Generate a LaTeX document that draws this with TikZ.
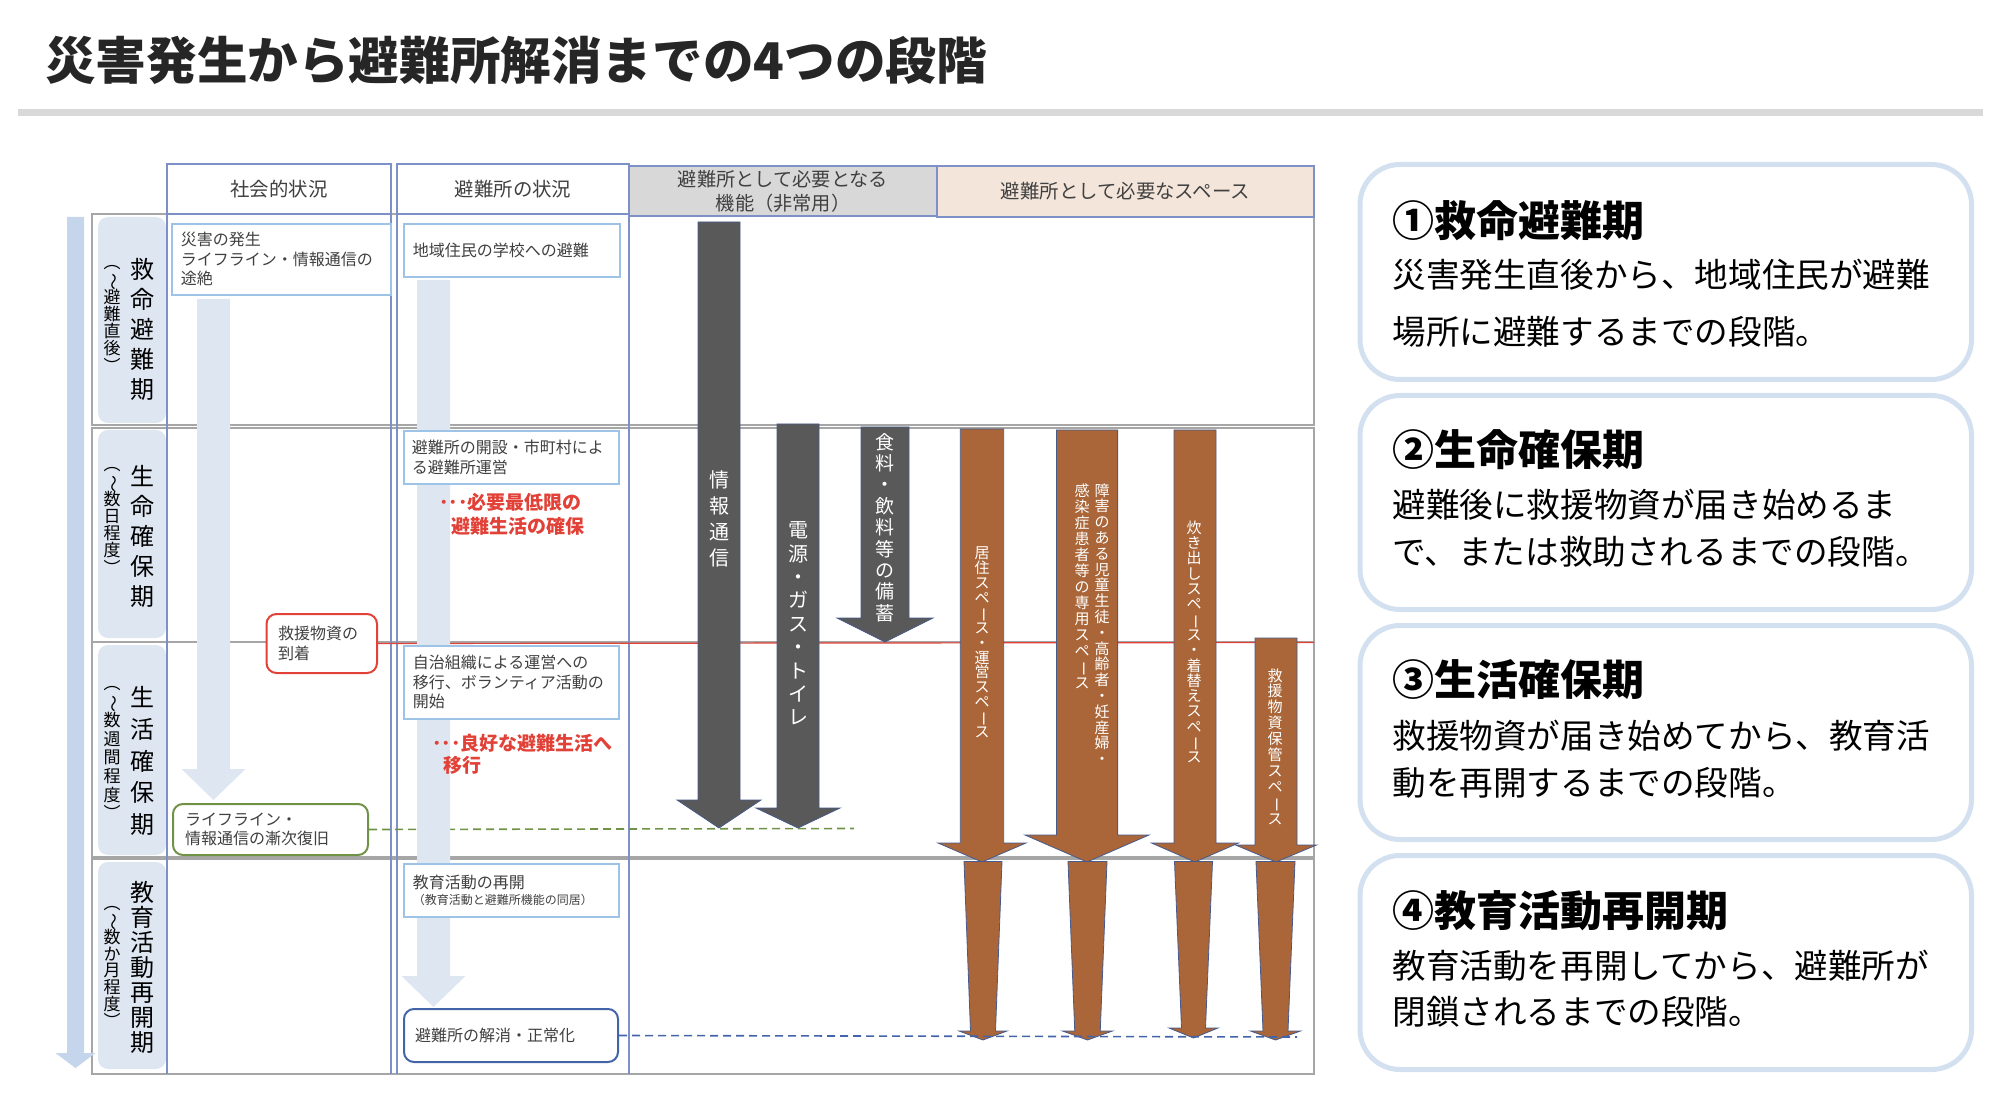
\documentclass[tikz,border=0pt]{standalone}
\usepackage{fontspec}
\usepackage{graphicx}
\setmainfont{Noto Sans CJK JP}

\definecolor{titletxt}{RGB}{38,38,38}
\definecolor{rulegray}{RGB}{217,217,217}
\definecolor{rowgray}{RGB}{166,166,166}
\definecolor{colline}{RGB}{125,145,200}
\definecolor{hdrgray}{RGB}{216,216,216}
\definecolor{hdrbeige}{RGB}{243,229,217}
\definecolor{labelblue}{RGB}{222,230,242}
\definecolor{arrowblue}{RGB}{197,213,235}
\definecolor{flowblue}{RGB}{222,230,242}
\definecolor{boxblue}{RGB}{157,195,230}
\definecolor{txtgray}{RGB}{64,64,64}
\definecolor{relred}{RGB}{225,65,55}
\definecolor{lifegreen}{RGB}{112,146,70}
\definecolor{closeblue}{RGB}{68,100,170}
\definecolor{darkfill}{RGB}{89,89,89}
\definecolor{brownfill}{RGB}{170,102,56}
\definecolor{arrowedge}{RGB}{70,90,140}
\definecolor{panelblue}{RGB}{210,224,240}

% 縦書き（1文字ずつ積む）
\def\tatei#1{\ifx\relax#1\else\hbox to 1em{\hss#1\hss}\expandafter\tatei\fi}
\newcommand\tate[2][1.25em]{\vbox{\baselineskip=#1\lineskiplimit=-\maxdimen\tatei#2\relax}}
\newcommand\vwave{\rotatebox[origin=c]{-90}{～}}
\newcommand\vbar{\rotatebox[origin=c]{-90}{ー}}

\begin{document}
\begin{tikzpicture}[x=0.5pt,y=-0.5pt,
    hdrtext/.style={font=\fontsize{9.7pt}{12pt}\selectfont, text=txtgray, inner sep=0pt},
    boxtext/.style={font=\fontsize{8pt}{9.75pt}\selectfont, text=txtgray},
    sitbox/.style={boxtext, draw=boxblue, line width=0.8pt, fill=white, anchor=north west, align=left, inner ysep=0pt},
    redtext/.style={font=\bfseries\fontsize{9.5pt}{12pt}\selectfont, text=relred, align=left, inner sep=0pt, anchor=west},
    phase/.style={font=\fontsize{12pt}{12pt}\selectfont, text=black, inner sep=0pt},
    phasesub/.style={font=\fontsize{8.5pt}{8.5pt}\selectfont, text=black, inner sep=0pt},
    arrowtext/.style={text=white, inner sep=0pt},
    spacetext/.style={font=\fontsize{7.5pt}{7.5pt}\selectfont, text=white, inner sep=0pt},
    darkarrow/.style={fill=darkfill, draw=arrowedge, line width=0.4pt},
    brownarrow/.style={fill=brownfill, draw=arrowedge, line width=0.4pt},
    panel/.style={draw=panelblue, line width=2.5pt, fill=white, rounded corners=20pt},
    ptitle/.style={font=\bfseries\fontsize{21pt}{24pt}\selectfont, text=black, inner sep=0pt, anchor=west},
    pbody/.style={text=black, align=left, inner sep=0pt, anchor=west}]
  \useasboundingbox (0,0) rectangle (1999,1118);

  % タイトル
  \node[font=\bfseries\fontsize{25.3pt}{30pt}\selectfont, text=titletxt, inner sep=0pt, anchor=west] (title) at (45,60) {災害発生から避難所解消までの4つの段階};
  \fill[rulegray] (18,109) rectangle (1983,116);

  % 表の行
  \foreach \ya/\yb in {214/425, 428/642, 642/857, 859/1074}
    \draw[rowgray, line width=0.75pt] (92,\ya) rectangle (1314,\yb);
  \foreach \ya/\yb in {217/423, 430/638, 645/855, 862/1069}
    \fill[labelblue, rounded corners=5pt] (98,\ya) rectangle (166,\yb);

  % 見出し
  \draw[colline, line width=0.6pt, fill=white] (167,164) rectangle (391,214);
  \draw[colline, line width=0.6pt, fill=white] (397,164) rectangle (629,214);
  \draw[colline, line width=0.6pt, fill=hdrgray] (629,166) rectangle (937,216);
  \draw[colline, line width=0.6pt, fill=hdrbeige] (937,166) rectangle (1314,217);
  \foreach \x in {167,391,397,629}
    \draw[colline, line width=0.6pt] (\x,164) -- (\x,1074);

  \node[hdrtext] (hsoc) at (279,189) {社会的状況};
  \node[hdrtext] (hshel) at (513,189) {避難所の状況};
  \node[hdrtext, align=center, font=\fontsize{9.6pt}{12pt}\selectfont] (hfunc) at (783,191) {避難所として必要となる\\機能（非常用）};
  \node[hdrtext] (hspace) at (1125.5,191.5) {避難所として必要なスペース};

  % 左の時間軸
  \fill[arrowblue] (67,217) -- (84,217) -- (84,1053) -- (95.5,1053) -- (75.5,1068) -- (55.5,1053) -- (67,1053) -- cycle;

  % 段階名
  \node[phase] (ph1) at (142,329) {\tate[15pt]{救命避難期}};
  \node[phase] (ph2) at (142,536) {\tate[15pt]{生命確保期}};
  \node[phase] (ph3) at (142,761) {\tate[15.9pt]{生活確保期}};
  \node[phase] (ph4) at (142,967) {\tate[12.5pt]{教育活動再開期}};
  \node[phasesub] (ph1s) at (112,319) {\tate[8.6pt]{︵\vwave 避難直後︶}};
  \node[phasesub] (ph2s) at (112,521) {\tate[8.6pt]{︵\vwave 数日程度︶}};
  \node[phasesub] (ph3s) at (112,753) {\tate[9.3pt]{︵\vwave 数週間程度︶}};
  \node[phasesub] (ph4s) at (112,967) {\tate[8.4pt]{︵\vwave 数か月程度︶}};

  % 赤線・点線の端
  \coordinate (redend) at (1314,642.5);
  \coordinate (greenend) at (854,828.5);
  \coordinate (blueend) at (1297,1037);

  \node[sitbox, draw=relred, rounded corners=5pt, line width=1pt, text width=43.75pt, inner xsep=5.75pt, minimum height=29.5pt] (relief) at (265.5,613) {救援物資の\\到着};
  \draw[relred, line width=0.6pt] (relief.east) -- (redend);
  \node[sitbox, draw=lifegreen, rounded corners=5pt, line width=1pt, text width=85.5pt, inner xsep=6pt, minimum height=25.5pt] (lifeline) at (172,803) {ライフライン・\\情報通信の漸次復旧};
  \draw[lifegreen, line width=0.8pt, dash pattern=on 4pt off 2.5pt] (lifeline.east) -- (greenend);

  % 流れの矢印（薄い青）
  \foreach \cx/\top/\ht/\tip in {213.5/299/769/800, 433.5/280/976/1007}
    \fill[flowblue] ({\cx-16.5},\top) -- ({\cx+16.5},\top) -- ({\cx+16.5},\ht) -- ({\cx+32},\ht) -- (\cx,\tip) -- ({\cx-32},\ht) -- ({\cx-16.5},\ht) -- cycle;

  % 機能の矢印
  \foreach \cx/\top/\s/\h/\ht/\tip in {719/222/21/42/800/828, 798/424/21/42/808/828, 885/427/24/48/618/642}
    \draw[darkarrow] ({\cx-\s},\top) -- ({\cx+\s},\top) -- ({\cx+\s},\ht) -- ({\cx+\h},\ht) -- (\cx,\tip) -- ({\cx-\h},\ht) -- ({\cx-\s},\ht) -- cycle;

  % スペースの矢印
  \foreach \cx/\top/\s/\h/\ht in {982/429/21.7/44/843, 1087/430/30.6/62/835, 1195/430/21/43.5/843, 1276/638/21/40.5/845}
    \draw[brownarrow] ({\cx-\s},\top) -- ({\cx+\s},\top) -- ({\cx+\s},\ht) -- ({\cx+\h},\ht) -- (\cx,862) -- ({\cx-\h},\ht) -- ({\cx-\s},\ht) -- cycle;
  \foreach \cx/\tw/\bw/\hw/\ht/\tip in {983/19/12.5/24/1031/1040, 1087.5/19.5/12.75/25/1031/1040, 1193.5/19/12/24.5/1028/1038, 1275.5/19.5/12.5/25/1031/1040}
    \draw[brownarrow] ({\cx-\tw},861.5) -- ({\cx+\tw},861.5) -- ({\cx+\bw},\ht) -- ({\cx+\hw},\ht) -- (\cx,\tip) -- ({\cx-\hw},\ht) -- ({\cx-\bw},\ht) -- cycle;

  \node[arrowtext, font=\fontsize{10pt}{10pt}\selectfont] (tinfo) at (719,519) {\tate[13pt]{情報通信}};
  \node[arrowtext, font=\fontsize{10pt}{10pt}\selectfont] (tpower) at (798,623.5) {\tate[11.7pt]{電源・ガス・トイレ}};
  \node[arrowtext, font=\fontsize{9.5pt}{10pt}\selectfont] (tfood) at (885,527.5) {\tate[10.7pt]{食料・飲料等の備蓄}};
  \node[spacetext] (tlive) at (982,642.5) {\tate[7.45pt]{居住スペ\vbar ス・運営スペ\vbar ス}};
  \node[spacetext] (tcare) at (1102,624) {\tate[7.9pt]{障害のある児童生徒・高齢者・妊産婦・}};
  \node[spacetext] (tinfect) at (1082,586.5) {\tate[8pt]{感染症患者等の専用スペ\vbar ス}};
  \node[spacetext] (tcook) at (1194,642) {\tate[7.65pt]{炊き出しスペ\vbar ス・着替えスペ\vbar ス}};
  \node[spacetext] (tstock) at (1275,746.5) {\tate[7.95pt]{救援物資保管スペ\vbar ス}};

  % 社会的状況・避難所の状況
  \node[sitbox, text width=100.5pt, inner xsep=4.5pt, minimum height=35.5pt] (disaster) at (171,223) {災害の発生\\ライフライン・情報通信の\\途絶};
  \node[sitbox, text width=99pt, inner xsep=4.5pt, minimum height=26.5pt] (evacuate) at (403,223) {地域住民の学校への避難};
  \node[sitbox, text width=99.5pt, inner xsep=4pt, minimum height=26.5pt] (opening) at (403,430) {避難所の開設・市町村によ\\る避難所運営};
  \node[sitbox, text width=98.5pt, inner xsep=4.5pt, minimum height=36.5pt] (selfgov) at (403,645) {自治組織による運営への\\移行、ボランティア活動の\\開始};
  \node[sitbox, text width=98.5pt, inner xsep=4.5pt, minimum height=26.5pt] (reopen) at (403,863) {教育活動の再開\\[-1.5pt]{\fontsize{6pt}{7pt}\selectfont （教育活動と避難所機能の同居）}};
  \node[sitbox, draw=closeblue, rounded corners=5pt, line width=1pt, text width=96pt, inner xsep=5.5pt, minimum height=26.5pt] (closing) at (403,1008) {避難所の解消・正常化};
  \draw[closeblue, line width=0.8pt, dash pattern=on 4pt off 2.5pt] (closing.east) -- (blueend);

  \node[redtext] (minimum) at (439,514) {･･･必要最低限の\\\hspace*{6pt}避難生活の確保};
  \node[redtext, font=\bfseries\fontsize{9.5pt}{11pt}\selectfont] (better) at (432,754) {･･･良好な避難生活へ\\\hspace*{5.5pt}移行};

  % 右側の説明
  \foreach \ya/\yb in {164.5/379.5, 395.5/609.5, 625.5/839.5, 855.5/1069.5}
    \draw[panel] (1360,\ya) rectangle (1971.5,\yb);
  \node[ptitle] (ttl1) at (1392,221) {①救命避難期};
  \node[ptitle] (ttl2) at (1392,450) {②生命確保期};
  \node[ptitle] (ttl3) at (1392,680) {③生活確保期};
  \node[ptitle] (ttl4) at (1392,911) {④教育活動再開期};
  \node[pbody, font=\fontsize{16.8pt}{28.5pt}\selectfont] (body1) at (1392,303) {災害発生直後から、地域住民が避難\\場所に避難するまでの段階。};
  \node[pbody, font=\fontsize{16.8pt}{23.25pt}\selectfont] (body2) at (1392,528) {避難後に救援物資が届き始めるま\\で、または救助されるまでの段階。};
  \node[pbody, font=\fontsize{16.8pt}{23.25pt}\selectfont] (body3) at (1392,759) {救援物資が届き始めてから、教育活\\動を再開するまでの段階。};
  \node[pbody, font=\fontsize{16.8pt}{23.25pt}\selectfont] (body4) at (1392,988.5) {教育活動を再開してから、避難所が\\閉鎖されるまでの段階。};
\end{tikzpicture}
\end{document}
